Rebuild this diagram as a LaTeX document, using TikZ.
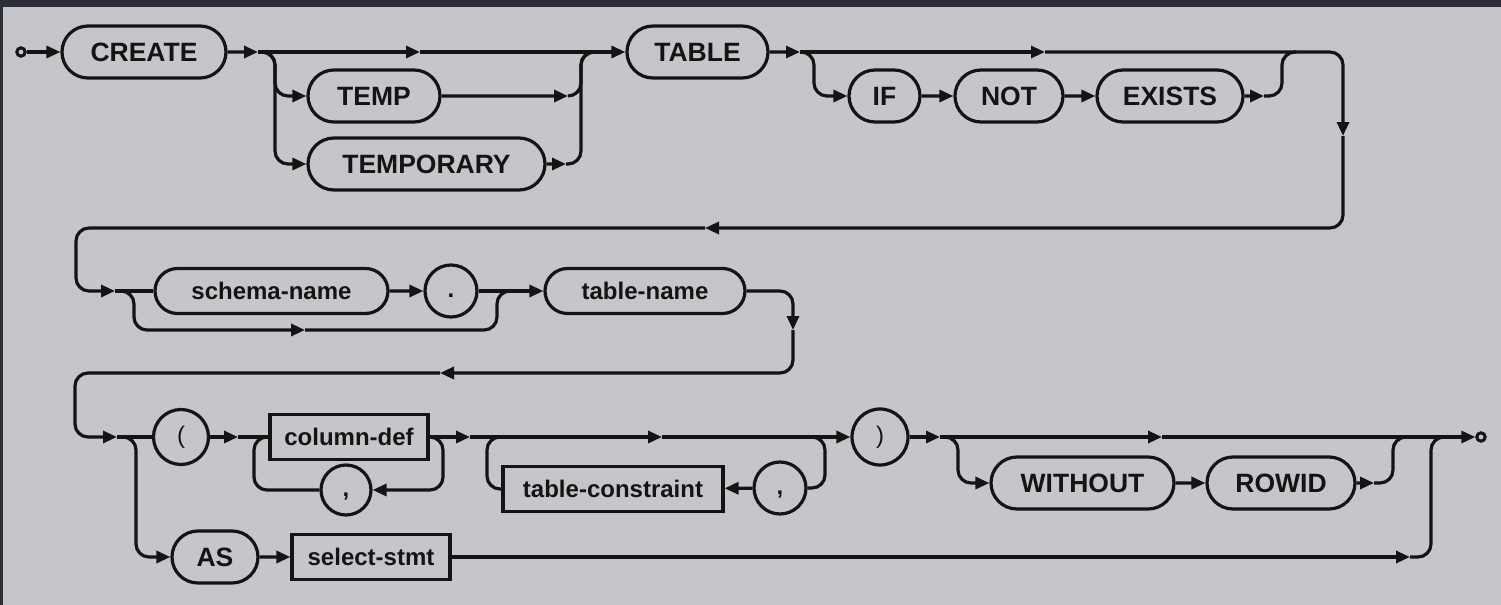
\documentclass[tikz,border=0pt]{standalone}
\usepackage{fontspec}
\setmainfont{Liberation Sans}
\usetikzlibrary{arrows.meta,shapes.misc}
\definecolor{bg}{HTML}{C6C6CA}
\definecolor{band}{HTML}{2B2E37}
\definecolor{ink}{HTML}{141414}

\begin{document}
\begin{tikzpicture}[x=0.5pt,y=-0.5pt,
  line width=1.6pt, color=ink,
  >={Triangle[length=7pt,width=6pt]},
  rc/.style={rounded corners=6.5pt},
  kw/.style={draw, rounded rectangle, minimum height=26pt, inner sep=0pt,
    font=\fontsize{13.25pt}{16pt}\selectfont\bfseries},
  nm/.style={draw, rounded rectangle, minimum height=22.5pt, inner sep=0pt,
    font=\fontsize{12pt}{14pt}\selectfont\bfseries},
  bx/.style={draw, rectangle, minimum height=22.5pt, inner sep=0pt,
    font=\fontsize{12pt}{14pt}\selectfont\bfseries},
  tok/.style={draw, circle, minimum size=26pt, inner sep=0pt,
    font=\fontsize{12pt}{14pt}\selectfont},
  dotend/.style={draw, circle, fill=bg, minimum size=4.2pt, inner sep=0pt, line width=1.5pt}]

% canvas
\useasboundingbox (0,0) rectangle (1501,605);
\fill[bg] (0,0) rectangle (1501,605);
\fill[band] (0,0) rectangle (1501,7);
\fill[band] (0,0) rectangle (3,605);

% ---- first line: CREATE [TEMP|TEMPORARY] TABLE [IF NOT EXISTS]
\node[dotend] (start) at (21,52) {};
\node[kw, minimum width=82pt] (create) at (144,52) {CREATE};
\node[kw, minimum width=66pt] (temp) at (374,96) {TEMP};
\node[kw, minimum width=118.5pt] (temporary) at (426.5,164) {TEMPORARY};
\node[kw, minimum width=70.5pt] (table) at (697.5,52) {TABLE};
\node[kw, minimum width=35.5pt] (if) at (884.5,96) {IF};
\node[kw, minimum width=54pt] (not) at (1009,96) {NOT};
\node[kw, minimum width=73pt] (exists) at (1170,96) {EXISTS};

% ---- second line: [schema-name .] table-name
\node[nm, minimum width=116.5pt] (schema) at (271.5,291) {schema-name};
\node[tok] (dot) at (451,291) {\bfseries\vphantom{(}.};
\node[nm, minimum width=100pt] (tname) at (645,291) {table-name};

% ---- third line: ( column-def ... ) [WITHOUT ROWID] | AS select-stmt
\node[tok, minimum size=27.5pt] (lp) at (181,437) {(};
\node[bx, minimum width=79pt] (cdef) at (349,437) {column-def};
\node[tok, minimum size=25pt] (comma1) at (346,490) {\bfseries\vphantom{(},};
\node[bx, minimum width=110pt] (tcons) at (613,489) {table-constraint};
\node[tok] (comma2) at (780,488) {\bfseries\vphantom{(},};
\node[tok, minimum size=28pt] (rp) at (880,437) {)};
\node[kw, minimum width=91.5pt] (without) at (1082.5,483) {WITHOUT};
\node[kw, minimum width=74pt] (rowid) at (1281,483) {ROWID};
\node[kw, minimum width=43pt] (as) at (215,557) {AS};
\node[bx, minimum width=79pt] (select) at (371,557) {select-stmt};
\node[dotend] (stop) at (1481,437) {};

% junctions and mid-line arrow points
\coordinate (j1) at (258,52);
\coordinate (a1) at (420,52);
\coordinate (t1) at (568,96);
\coordinate (t2) at (566,164);
\coordinate (j2) at (800,52);
\coordinate (a2) at (1045,52);
\coordinate (a3) at (1343,136);
\coordinate (a4) at (705,228);
\coordinate (a5) at (1264,96);
\coordinate (j3) at (115,291);
\coordinate (a6) at (305,330);
\coordinate (a7) at (793,330);
\coordinate (a8) at (440,373);
\coordinate (j4) at (117,437);
\coordinate (j5) at (238,437);
\coordinate (j6) at (470,437);
\coordinate (a9) at (662,437);
\coordinate (j7) at (940,437);
\coordinate (a10) at (1162,437);
\coordinate (a11) at (1374,483);
\coordinate (a12) at (1410,557);

% first line
\draw[->] (start) -- (create);
\draw[->] (create) -- (j1);
\draw[->] (j1) -- (a1);
\draw[->] (a1) -- (table);
\draw[->,rc] (j1) -- (275,52) -- (275,96) -- (temp);
\draw[->,rc] (j1) -- (275,52) -- (275,164) -- (temporary);
\draw[->] (temp) -- (t1);
\draw[rc] (t1) -- (581,96) -- (581,52) -- (594,52);
\draw[->] (temporary) -- (t2);
\draw[rc] (t2) -- (581,164) -- (581,52) -- (594,52);
\draw[->] (table) -- (j2);
\draw[->] (j2) -- (a2);
\draw[->,rc] (a2) -- (1343,52) -- (a3);
\draw[->,rc] (a3) -- (1343,228) -- (a4);
\draw[->,rc] (a4) -- (76,228) -- (76,291) -- (j3);
\draw[->,rc] (j2) -- (814,52) -- (814,96) -- (if);
\draw[->] (if) -- (not);
\draw[->] (not) -- (exists);
\draw[->] (exists) -- (a5);
\draw[rc] (a5) -- (1282,96) -- (1282,52) -- (1296,52);

% second line
\draw (j3) -- (schema);
\draw[->,rc] (j3) -- (134,291) -- (134,330) -- (a6);
\draw[rc] (a6) -- (497,330) -- (497,291) -- (510,291);
\draw[->] (schema) -- (dot);
\draw[->] (dot) -- (tname);
\draw[->,rc] (tname) -- (793,291) -- (a7);
\draw[->,rc] (a7) -- (793,373) -- (a8);
\draw[->,rc] (a8) -- (75,373) -- (75,437) -- (j4);

% third line
\draw (j4) -- (lp);
\draw[->,rc] (j4) -- (136,437) -- (136,557) -- (as);
\draw[->] (lp) -- (j5);
\draw (j5) -- (cdef);
\draw[->,rc] (cdef.east) -- (443,437) -- (443,490) -- (comma1);
\draw[rc] (comma1) -- (254,490) -- (254,437) -- (267,437);
\draw[->] (cdef) -- (j6);
\draw[->] (j6) -- (a9);
\draw[->] (a9) -- (rp);
\draw[rc] (812,437) -- (825,437) -- (825,488) -- (comma2);
\draw[->] (comma2) -- (tcons);
\draw[rc] (tcons) -- (487,489) -- (487,437) -- (500,437);
\draw[->] (rp) -- (j7);
\draw[->] (j7) -- (a10);
\draw[->] (a10) -- (stop);
\draw[->,rc] (j7) -- (958,437) -- (958,483) -- (without);
\draw[->] (without) -- (rowid);
\draw[->] (rowid) -- (a11);
\draw[rc] (a11) -- (1393,483) -- (1393,437) -- (1406,437);
\draw[->] (as) -- (select);
\draw[->] (select) -- (a12);
\draw[rc] (a12) -- (1431,557) -- (1431,437) -- (1444,437);
\end{tikzpicture}
\end{document}
